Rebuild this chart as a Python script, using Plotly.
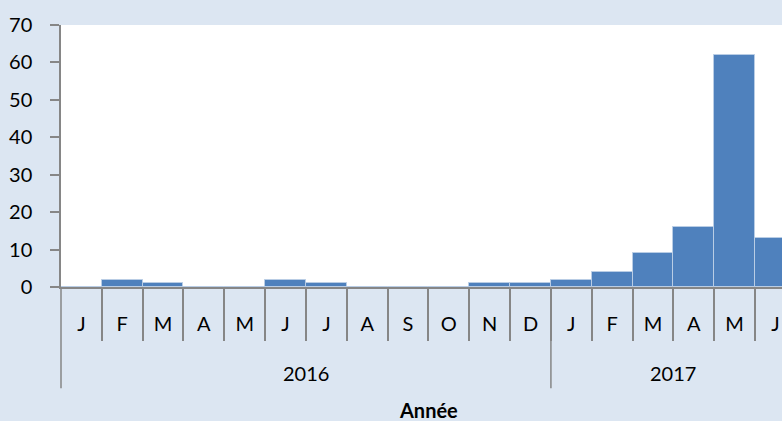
import plotly.graph_objects as go

months = ["J", "F", "M", "A", "M", "J", "J", "A", "S", "O", "N", "D",
          "J", "F", "M", "A", "M", "J"]
years = ["2016", "2017"]
year_lengths = [12, 6]
values = [0, 2, 1, 0, 0, 2, 1, 0, 0, 0, 1, 1,
          2, 4, 9, 16, 62, 13]
x_title = "Année"

xpos = list(range(len(months)))
FONT = "Lato"
GRAY = "#868686"

fig = go.Figure()
fig.add_trace(go.Bar(
    x=xpos, y=values,
    marker=dict(color="#4f81bd", line=dict(color="#b9cde5", width=1)),
    width=1.0,
))

# boundaries between months (minor ticks) and between years (long lines)
boundaries = [i + 0.5 for i in range(len(months) - 1)]

shapes = []
start = -0.5
year_centers = []
for n in year_lengths:
    year_centers.append(start + n / 2)
    start += n
year_edges = []
s = -0.5
for n in year_lengths[:-1]:
    s += n
    year_edges.append(s)

shapes.append(dict(type="line", xref="x domain", yref="paper", x0=0, x1=0,
                   y0=0, y1=-0.386, line=dict(color=GRAY, width=1.5)))
for e in year_edges:
    shapes.append(dict(type="line", xref="x", yref="paper", x0=e, x1=e,
                       y0=0, y1=-0.386, line=dict(color=GRAY, width=1.5)))

annotations = []
for yr, c in zip(years, year_centers):
    annotations.append(dict(text=yr, x=c, xref="x", y=-0.328, yref="paper",
                            showarrow=False, yanchor="middle",
                            font=dict(family=FONT, size=20, color="#000")))
annotations.append(dict(text="<b>" + x_title + "</b>", x=(len(months) - 1) / 2,
                        xref="x", y=-0.468, yref="paper", showarrow=False,
                        yanchor="middle",
                        font=dict(family=FONT, size=20, color="#000")))

fig.update_layout(
    width=782, height=421,
    margin=dict(l=61, r=0, t=25, b=134),
    paper_bgcolor="#dce6f2",
    plot_bgcolor="#ffffff",
    bargap=0,
    showlegend=False,
    shapes=shapes,
    annotations=annotations,
    font=dict(family=FONT, size=20, color="#000"),
)
fig.update_xaxes(
    range=[-0.5, 17.16],
    tickmode="array", tickvals=xpos, ticktext=months,
    ticks="", ticklabelstandoff=18,
    showgrid=False, zeroline=False,
    showline=True, linecolor=GRAY, linewidth=1.5,
    minor=dict(tickmode="array", tickvals=boundaries, ticks="outside",
               ticklen=52, tickcolor=GRAY, tickwidth=1.5, showgrid=False),
    tickfont=dict(family=FONT, size=20, color="#000"),
)
fig.update_yaxes(
    range=[0, 70], dtick=10, tick0=0,
    ticks="outside", ticklen=9, tickcolor=GRAY, tickwidth=1.5,
    ticklabelstandoff=14,
    showgrid=False, zeroline=False,
    showline=True, linecolor=GRAY, linewidth=1.5,
    tickfont=dict(family=FONT, size=20, color="#000"),
)

fig.write_html(
    "out.html",
    config=dict(displayModeBar=False),
    post_script="document.body.style.margin='0';document.body.style.overflow='hidden';",
)
